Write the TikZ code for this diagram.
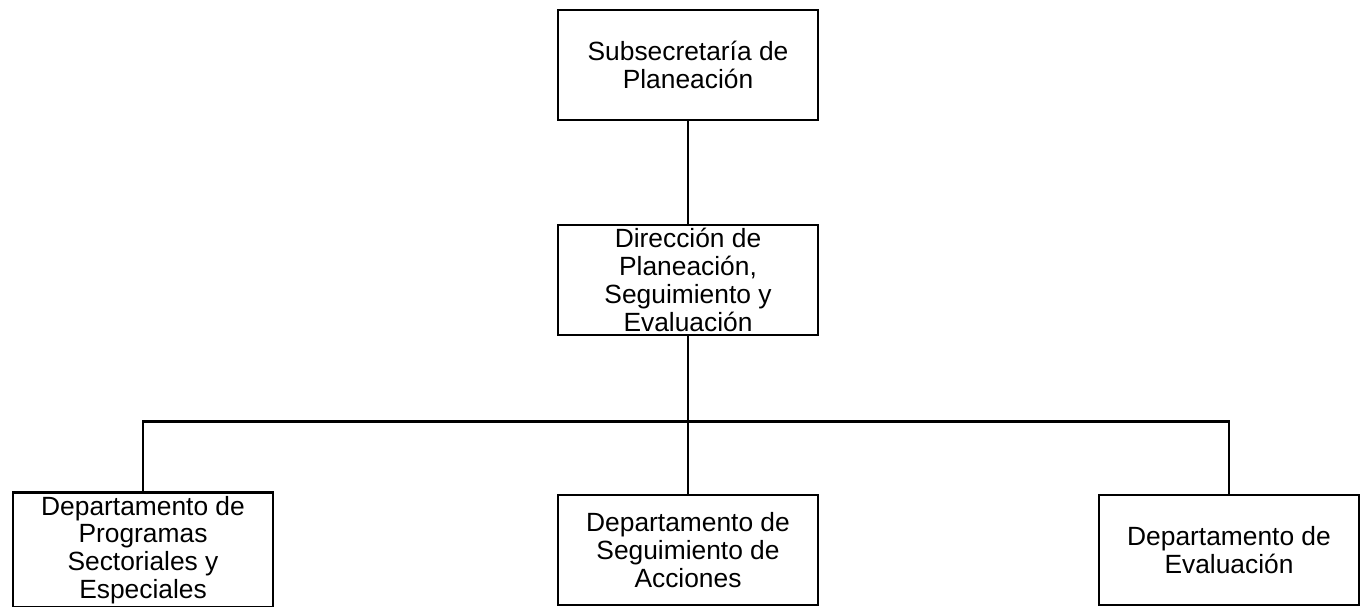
\documentclass[tikz,border=0pt]{standalone}
\usepackage{fontspec}
\setmainfont{Liberation Sans}
\usepackage{tikz}
\usetikzlibrary{positioning}
\usetikzlibrary{calc}
\tikzstyle{line} = [draw, line width=1.4pt]

\begin{document}
\begin{tikzpicture}[internal/.style={draw, rectangle, line width=1.4pt, inner sep=2pt, outer sep=0pt,
                minimum width=5.2cm, minimum height=2.2cm,
                font=\fontsize{15pt}{15.8pt}\selectfont},
        		every text node part/.style={align=center}]
        		\useasboundingbox (0, 0) rectangle (27.28, -12.12);
        		
        		\node[internal](node1) at (13.76, -1.3) {Subsecretaría de\\Planeación};
        		
        		\node[internal, below=2.1cm of node1](node2) {Dirección de\\Planeación,\\Seguimiento y\\Evaluación};
        		
        		\node[internal, below=3.2cm of node2](node4) {Departamento de\\Seguimiento de\\Acciones};
        		\node[internal, left=5.7cm of node4](node3) {Departamento de\\Programas\\Sectoriales y\\Especiales};
        		\node[internal, right=5.62cm of node4](node5) {Departamento de\\Evaluación};
        		
        		\coordinate (bus) at ($(node2.south)!0.54!(node4.north)$);
        		
        		\draw[line] (node1) -- (node2);
        		\draw[line] (node2) -- (node4);
        		\draw[line] (node3.north) |- (bus) -| (node5.north);
        	\end{tikzpicture}
\end{document}
